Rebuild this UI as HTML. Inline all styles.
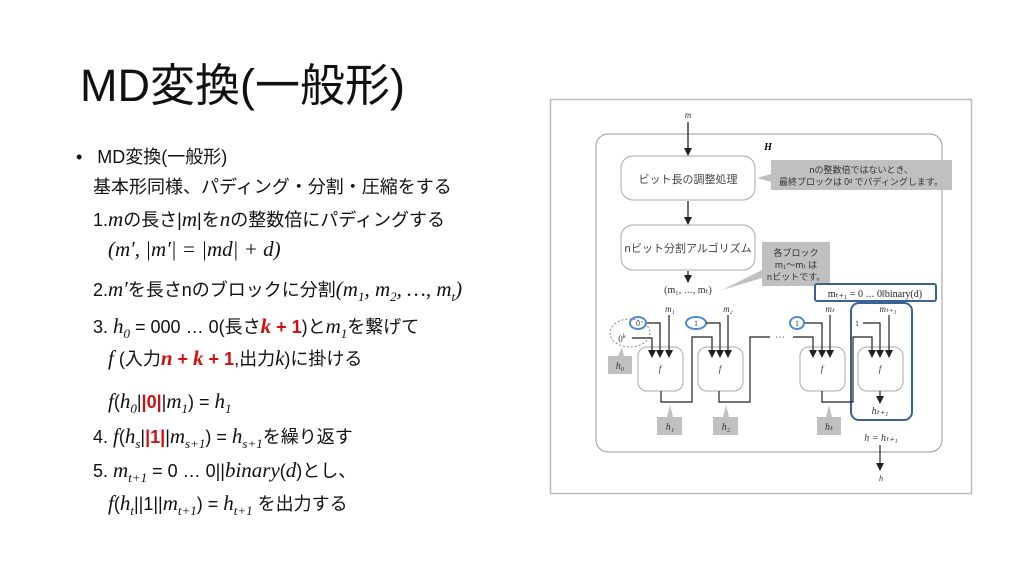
<!DOCTYPE html>
<html><head><meta charset="utf-8"><style>
body{margin:0;width:1024px;height:576px;background:#fff;overflow:hidden;position:relative;font-family:"Liberation Sans","Noto Sans CJK JP",sans-serif;color:#111}
.t{position:absolute;white-space:nowrap}
.title{left:80px;top:58px;font-size:45px;line-height:56px}
.l{font-size:18px;line-height:24px}
i{font-family:"Liberation Serif","Noto Serif CJK SC",serif;font-size:21px}
.r{color:#d01010;font-weight:bold}
sub{font-size:13px}
</style></head><body>
<div class="t title">MD変換(一般形)</div>
<div class="t l" style="left:76px;top:145px">•&nbsp;&nbsp; MD変換(一般形)</div>
<div class="t l" style="left:93px;top:175px">基本形同様、パディング・分割・圧縮をする</div>
<div class="t l" style="left:93px;top:207px">1.<i>m</i>の長さ|<i>m</i>|を<i>n</i>の整数倍にパディングする</div>
<div class="t l" style="left:108px;top:237px"><i>(m′, |m′| = |md| + d)</i></div>
<div class="t l" style="left:93px;top:277px">2.<i>m′</i>を長さnのブロックに分割<i>(m<sub>1</sub>, m<sub>2</sub>, …, m<sub>t</sub>)</i></div>
<div class="t l" style="left:93px;top:314px">3. <i>h<sub>0</sub></i> = 000 … 0(長さ<i class="r">k</i><span class="r"> + 1</span>)と<i>m<sub>1</sub></i>を繋げて</div>
<div class="t l" style="left:108px;top:346px"><i>f</i> (入力<i class="r">n</i><span class="r"> + </span><i class="r">k</i><span class="r"> + 1</span>,出力<i>k</i>)に掛ける</div>
<div class="t l" style="left:108px;top:389px"><i>f</i>(<i>h<sub>0</sub></i>|<span class="r">|0|</span>|<i>m<sub>1</sub></i>) = <i>h<sub>1</sub></i></div>
<div class="t l" style="left:93px;top:424px">4. <i>f</i>(<i>h<sub>s</sub></i>|<span class="r">|1|</span>|<i>m<sub>s+1</sub></i>) = <i>h<sub>s+1</sub></i>を繰り返す</div>
<div class="t l" style="left:93px;top:458px">5. <i>m<sub>t+1</sub></i> = 0 … 0||<i>binary</i>(<i>d</i>)とし、</div>
<div class="t l" style="left:108px;top:491px"><i>f</i>(<i>h<sub>t</sub></i>||1||<i>m<sub>t+1</sub></i>) = <i>h<sub>t+1</sub></i> を出力する</div>

<svg class="t" style="left:0;top:0" width="1024" height="576" viewBox="0 0 1024 576" font-family="Liberation Serif,Noto Serif CJK JP,serif">
<defs><marker id="a" markerWidth="8" markerHeight="8" refX="7" refY="4" orient="auto" markerUnits="userSpaceOnUse"><path d="M0,0 L8,4 L0,8z" fill="#222"/></marker></defs>
<rect x="550.5" y="99.5" width="421" height="394" fill="#fff" stroke="#bbb" stroke-width="1.5"/>
<rect x="596" y="134" width="346" height="318" rx="12" fill="none" stroke="#999"/>
<text x="688" y="118" font-size="9" font-style="italic" text-anchor="middle" fill="#333">m</text>
<text x="768" y="150" font-size="10" font-weight="bold" font-style="italic" text-anchor="middle">H</text>
<g stroke="#222" stroke-width="1.3" fill="none">
<line x1="688" y1="122" x2="688" y2="155" marker-end="url(#a)"/>
<line x1="688" y1="201" x2="688" y2="224" marker-end="url(#a)"/>
<line x1="688" y1="271" x2="688" y2="282" marker-end="url(#a)"/>
</g>
<rect x="621" y="156" width="134" height="44" rx="12" fill="#fff" stroke="#aaa"/>
<text x="688" y="183" font-size="11" text-anchor="middle" fill="#444" font-family="Noto Sans CJK JP,sans-serif">ビット長の調整処理</text>
<rect x="621" y="225" width="134" height="45" rx="12" fill="#fff" stroke="#aaa"/>
<text x="688" y="252" font-size="11" text-anchor="middle" fill="#444" font-family="Noto Sans CJK JP,sans-serif">nビット分割アルゴリズム</text>
<polygon points="771,160 952,160 952,190 771,190 771,182 757,178 771,174" fill="#c0c0c0"/>
<text x="861" y="173" font-size="9" text-anchor="middle" fill="#333" font-family="Noto Sans CJK JP,sans-serif">nの整数倍ではないとき、</text>
<text x="861" y="185" font-size="9" text-anchor="middle" fill="#333" font-family="Noto Sans CJK JP,sans-serif">最終ブロックは 0ᵈ でパディングします。</text>
<polygon points="762,242 830,242 830,286 762,286 762,278 722,290 762,270" fill="#c0c0c0"/>
<text x="796" y="256" font-size="9" text-anchor="middle" fill="#333" font-family="Noto Sans CJK JP,sans-serif">各ブロック</text>
<text x="796" y="268" font-size="9" text-anchor="middle" fill="#333" font-family="Noto Sans CJK JP,sans-serif">m₁〜mₜ は</text>
<text x="796" y="280" font-size="9" text-anchor="middle" fill="#333" font-family="Noto Sans CJK JP,sans-serif">nビットです。</text>
<text x="688" y="293" font-size="10" text-anchor="middle" fill="#333">(m₁, ⋯, mₜ)</text>
<rect x="815" y="284" width="121" height="17" rx="2" fill="#fff" stroke="#3a6394" stroke-width="2"/>
<text x="875" y="297" font-size="10" text-anchor="middle" fill="#222">mₜ₊₁ = 0 ⋯ 0‖binary(d)</text>
<rect x="851" y="303" width="61" height="117" rx="8" fill="none" stroke="#3a6394" stroke-width="2"/>
<g fill="#fff" stroke="#aaa">
<rect x="638" y="347" width="45" height="44" rx="9"/>
<rect x="698" y="347" width="45" height="44" rx="9"/>
<rect x="800" y="347" width="45" height="44" rx="9"/>
<rect x="858" y="347" width="45" height="44" rx="9"/>
</g>
<g font-size="9" font-style="italic" fill="#333" text-anchor="middle">
<text x="660" y="372">f</text><text x="720" y="372">f</text><text x="822" y="372">f</text><text x="880" y="372">f</text>
<text x="670" y="312">m₁</text><text x="728" y="312">m₂</text><text x="830" y="312">mₜ</text><text x="888" y="312">mₜ₊₁</text>
</g>
<g fill="#c0c0c0">
<rect x="608" y="356" width="24" height="18"/><polygon points="618,356 622,347 624,356"/>
<rect x="657" y="417" width="25" height="18"/><polygon points="667,417 670,405 673,417"/>
<rect x="713" y="417" width="25" height="18"/><polygon points="723,417 726,405 729,417"/>
<rect x="817" y="417" width="24" height="18"/><polygon points="826,417 829,405 832,417"/>
</g>
<g font-size="10" font-style="italic" fill="#333" text-anchor="middle">
<text x="620" y="369">h₀</text><text x="670" y="430">h₁</text><text x="726" y="430">h₂</text><text x="829" y="430">hₜ</text>
<text x="880" y="414">hₜ₊₁</text><text x="881" y="441">h = hₜ₊₁</text><text x="881" y="481" font-size="8">h</text>
</g>
<ellipse cx="630" cy="333" rx="20" ry="14" fill="none" stroke="#888" stroke-dasharray="2,2"/>
<g fill="none" stroke="#4a8ccc" stroke-width="2">
<ellipse cx="638" cy="323" rx="8" ry="6"/><ellipse cx="696" cy="323" rx="10" ry="6"/><ellipse cx="797" cy="323" rx="7" ry="6"/>
</g>
<g font-size="8" fill="#333" text-anchor="middle">
<text x="638" y="326">0</text><text x="696" y="326">1</text><text x="797" y="326">1</text><text x="857" y="326">1</text>
<text x="622" y="342" font-size="9">0<tspan font-size="6" dy="-4">k</tspan></text>
<text x="780" y="341" font-size="10">⋯</text>
</g>
<g stroke="#222" stroke-width="1.2" fill="none" marker-end="url(#a)">
<polyline points="632,338 652,338 652,357"/>
<polyline points="647,323 660,323 660,357"/>
<polyline points="669,315 669,357"/>
<polyline points="661,391 661,402 692,402 692,337 712,337 712,357"/>
<polyline points="706,323 720,323 720,357"/>
<polyline points="728,315 728,357"/>
<polyline points="793,337 813,337 813,357"/>
<polyline points="805,323 822,323 822,357"/>
<polyline points="830,315 830,357"/>
<polyline points="822,391 822,402 853,402 853,337 872,337 872,357"/>
<polyline points="863,323 880,323 880,357"/>
<polyline points="889,315 889,357"/>
<polyline points="880,391 880,403"/>
<polyline points="880,445 880,470"/>
</g>
<polyline points="719,391 719,402 750,402 750,337 770,337" stroke="#222" stroke-width="1.2" fill="none"/>
</svg>
</body></html>
